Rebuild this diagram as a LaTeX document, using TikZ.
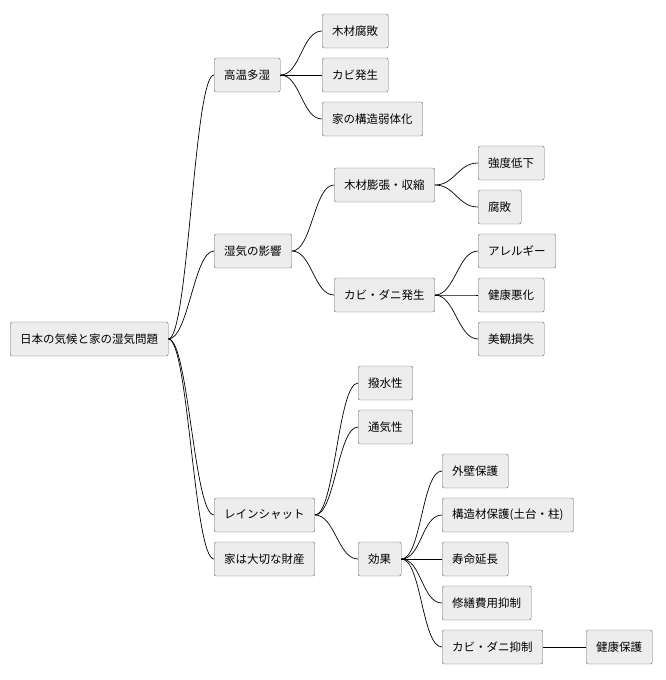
\documentclass[tikz,border=0pt]{standalone}
\usepackage{fontspec}
\setmainfont{Noto Sans CJK JP}
\begin{document}
\begin{tikzpicture}[x=1pt,y=-1pt]

  \tikzstyle{topic}=[draw=black!60,fill=black!7,rounded corners=2pt,anchor=west,
    minimum height=34pt,inner xsep=10pt,font=\fontsize{11.5}{13}\selectfont]
  \tikzstyle{link}=[draw=black,line width=0.7pt]

  \useasboundingbox (0,0) rectangle (665,680);

  \node[topic] (root) at (10,339) {日本の気候と家の湿気問題};

  \node[topic] (hot) at (214,75) {高温多湿};
  \node[topic] (rot) at (322,31) {木材腐敗};
  \node[topic] (mold) at (322,75) {カビ発生};
  \node[topic] (weak) at (322,119) {家の構造弱体化};

  \node[topic] (eff) at (214,251) {湿気の影響};
  \node[topic] (swell) at (334,185) {木材膨張・収縮};
  \node[topic] (str) at (478,163) {強度低下};
  \node[topic] (rot2) at (478,207) {腐敗};
  \node[topic] (mite) at (334,295) {カビ・ダニ発生};
  \node[topic] (alg) at (478,251) {アレルギー};
  \node[topic] (hlth) at (478,295) {健康悪化};
  \node[topic] (look) at (478,339) {美観損失};

  \node[topic] (rain) at (214,515) {レインシャット};
  \node[topic] (rep) at (358,383) {撥水性};
  \node[topic] (air) at (358,427) {通気性};
  \node[topic] (res) at (358,559) {効果};
  \node[topic] (wall) at (442,471) {外壁保護};
  \node[topic] (base) at (442,515) {構造材保護(土台・柱)};
  \node[topic] (life) at (442,559) {寿命延長};
  \node[topic] (cost) at (442,603) {修繕費用抑制};
  \node[topic] (stop) at (442,647) {カビ・ダニ抑制};
  \node[topic] (safe) at (586,647) {健康保護};

  \node[topic] (asset) at (214,559) {家は大切な財産};

  \foreach \a/\b in {root/hot,root/eff,root/rain,root/asset,
      hot/rot,hot/mold,hot/weak,eff/swell,eff/mite,swell/str,swell/rot2,
      mite/alg,mite/hlth,mite/look,rain/rep,rain/air,rain/res,
      res/wall,res/base,res/life,res/cost,res/stop}
    \draw[link] (\a.east) .. controls +(20,0) and +(-20,0) .. (\b.west);

  \draw[link] (stop) -- (safe);

\end{tikzpicture}
\end{document}
